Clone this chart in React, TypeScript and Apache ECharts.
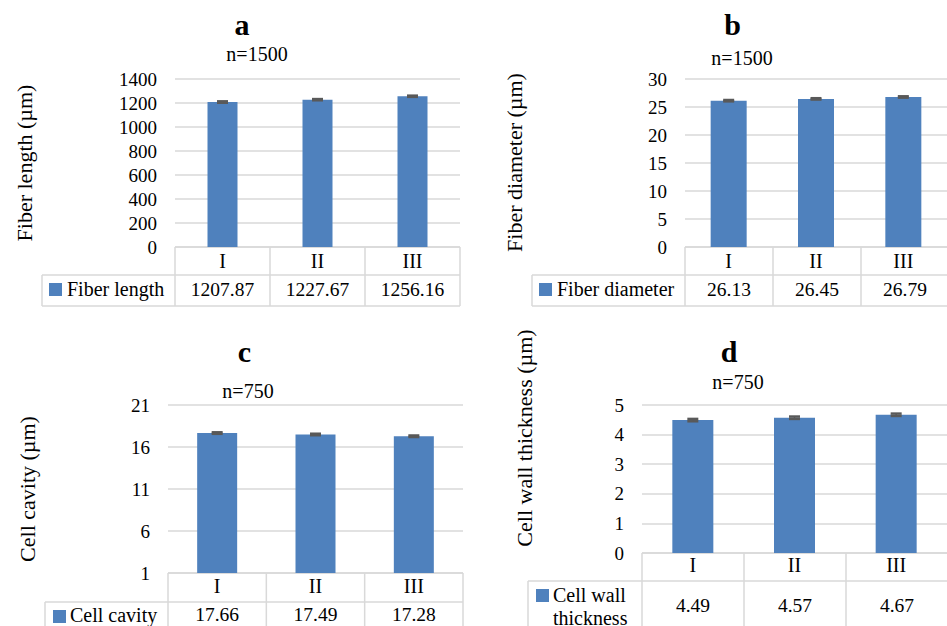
import React, { useEffect, useRef } from "react";
import * as echarts from "echarts";

// Sample groups shown on every panel
const categories = ["I", "II", "III"];

// Mean values per group
const fiberLength = [1207.87, 1227.67, 1256.16];
const fiberDiameter = [26.13, 26.45, 26.79];
const cellCavity = [17.66, 17.49, 17.28];
const wallThickness = [4.49, 4.57, 4.67];

// Standard errors per group
const fiberLengthErr = [6, 5, 5];
const fiberDiameterErr = [0.12, 0.12, 0.12];
const cellCavityErr = [0.09, 0.09, 0.09];
const wallThicknessErr = [0.04, 0.04, 0.04];

// Panel labels, sample sizes and axis titles
const panelLetters = ["a", "b", "c", "d"];
const sampleSizes = ["n=1500", "n=1500", "n=750", "n=750"];
const axisTitles = [
  "Fiber length (µm)",
  "Fiber diameter (µm)",
  "Cell cavity (µm)",
  "Cell wall thickness (µm)",
];
const seriesNames = ["Fiber length", "Fiber diameter", "Cell cavity", "Cell wall\nthickness"];

// Value axis ranges: [min, max, interval]
const axisRanges = [
  [0, 1400, 200],
  [0, 30, 5],
  [1, 21, 5],
  [0, 5, 1],
];

const values = [fiberLength, fiberDiameter, cellCavity, wallThickness];
const errors = [fiberLengthErr, fiberDiameterErr, cellCavityErr, wallThicknessErr];

const FONT = "'Liberation Serif', 'Times New Roman', serif";
const BAR = "#4f81bd";
const GRID = "#d9d9d9";
const ERR = "#595959";

// Pixel layout of each panel
const layouts = [
  { left: 175, top: 79, width: 285, height: 168, barWidth: 30, margin: 14, rowMid: 275, rowBot: 306, legendLeft: 42, squareX: 49, squareY: 283, textX: 67, valueY: 289, legendY: [289], titleX: 242, titleY: 24, nX: 257, nY: 53.5, yTitleX: 24, yTitleY: 163 },
  { left: 685, top: 79, width: 264, height: 168, barWidth: 36, margin: 14, rowMid: 275, rowBot: 306, legendLeft: 532, squareX: 539, squareY: 283, textX: 557, valueY: 289, legendY: [289], titleX: 732.5, titleY: 24, nX: 742, nY: 57.5, yTitleX: 514, yTitleY: 162.5 },
  { left: 168, top: 405, width: 295, height: 168, barWidth: 40, margin: 13, rowMid: 602, rowBot: 634, legendLeft: 45, squareX: 53, squareY: 610, textX: 70, valueY: 614, legendY: [615], titleX: 244.5, titleY: 351, nX: 248, nY: 390.5, yTitleX: 27.5, yTitleY: 489 },
  { left: 642, top: 405, width: 306, height: 148, barWidth: 41, margin: 12, rowMid: 581, rowBot: 634, legendLeft: 528, squareX: 536, squareY: 589, textX: 553, valueY: 605, legendY: [595, 618], titleX: 729, titleY: 351, nX: 738, nY: 381.5, yTitleX: 524, yTitleY: 438 },
];

function line(x1: number, y1: number, x2: number, y2: number) {
  return {
    type: "line",
    silent: true,
    shape: { x1, y1, x2, y2 },
    style: { stroke: GRID, lineWidth: 1.5 },
  };
}

function text(t: string, x: number, y: number, size: number, extra: any = {}) {
  return {
    type: "text",
    silent: true,
    x,
    y,
    style: {
      text: t,
      fontFamily: FONT,
      fontSize: size,
      fill: "#000",
      align: "center",
      verticalAlign: "middle",
      ...extra,
    },
  };
}

// Data table, titles and legend key beneath/around one panel
function panelGraphics(i: number) {
  const L = layouts[i];
  const rowTop = L.top + L.height;
  const colW = L.width / categories.length;
  const right = L.left + L.width;
  const els: any[] = [];
  els.push(line(L.left, rowTop, right, rowTop));
  els.push(line(L.legendLeft, L.rowMid, right, L.rowMid));
  els.push(line(L.legendLeft, L.rowBot, right, L.rowBot));
  els.push(line(L.legendLeft, L.rowMid, L.legendLeft, L.rowBot));
  for (let k = 0; k <= categories.length; k++) {
    const x = L.left + k * colW;
    els.push(line(x, rowTop, x, L.rowBot));
  }
  values[i].forEach((v, k) => {
    els.push(text(v.toFixed(2), L.left + (k + 0.5) * colW, L.valueY, 19.5));
  });
  els.push({
    type: "rect",
    silent: true,
    shape: { x: L.squareX, y: L.squareY, width: 13, height: 13 },
    style: { fill: BAR },
  });
  seriesNames[i].split("\n").forEach((s, k) => {
    els.push(text(s, L.textX, L.legendY[k], 20, { align: "left" }));
  });
  els.push(text(panelLetters[i], L.titleX, L.titleY, 30, { fontWeight: "bold" }));
  els.push(text(sampleSizes[i], L.nX, L.nY, 20));
  const yt: any = text(axisTitles[i], L.yTitleX, L.yTitleY, 22);
  yt.rotation = Math.PI / 2;
  els.push(yt);
  return els;
}

function errorRender(params: any, api: any) {
  const x = api.value(0);
  const v = api.value(1);
  const e = api.value(2);
  const hi = api.coord([x, v + e]);
  const lo = api.coord([x, v - e]);
  const hw = 5.5;
  const style = { stroke: ERR, lineWidth: 2.5 };
  return {
    type: "group",
    children: [
      { type: "line", shape: { x1: hi[0], y1: hi[1], x2: lo[0], y2: lo[1] }, style: { stroke: ERR, lineWidth: 1.5 } },
      { type: "line", shape: { x1: hi[0] - hw, y1: hi[1], x2: hi[0] + hw, y2: hi[1] }, style },
      { type: "line", shape: { x1: lo[0] - hw, y1: lo[1], x2: lo[0] + hw, y2: lo[1] }, style },
    ],
  };
}

export default function App() {
  const ref = useRef<HTMLDivElement>(null);

  useEffect(() => {
    if (!ref.current) return;
    const chart = echarts.init(ref.current, null, { renderer: "svg" });

    const grid = layouts.map((L) => ({
      left: L.left,
      top: L.top,
      width: L.width,
      height: L.height,
      containLabel: false,
    }));

    const xAxis = layouts.map((L, i) => ({
      type: "category",
      gridIndex: i,
      data: categories,
      axisLine: { show: false },
      axisTick: { show: false },
      axisLabel: {
        margin: L.margin,
        verticalAlign: "middle",
        fontFamily: FONT,
        fontSize: 20,
        color: "#000",
      },
    }));

    const yAxis = axisRanges.map(([min, max, interval], i) => ({
      type: "value",
      gridIndex: i,
      min,
      max,
      interval,
      axisLine: { show: false },
      axisTick: { show: false },
      axisLabel: {
        margin: 18,
        fontFamily: FONT,
        fontSize: 19,
        color: "#000",
        formatter: (v: number) => String(v),
      },
      splitLine: { lineStyle: { color: GRID, width: 1.5 } },
    }));

    const series: any[] = [];
    values.forEach((vals, i) => {
      series.push({
        type: "bar",
        name: seriesNames[i],
        xAxisIndex: i,
        yAxisIndex: i,
        data: vals,
        barWidth: layouts[i].barWidth,
        itemStyle: { color: BAR },
      });
      series.push({
        type: "custom",
        xAxisIndex: i,
        yAxisIndex: i,
        data: vals.map((v, k) => [k, v, errors[i][k]]),
        renderItem: errorRender,
        z: 5,
      });
    });

    const graphic: any[] = [];
    layouts.forEach((_, i) => graphic.push(...panelGraphics(i)));

    chart.setOption({
      animation: false,
      backgroundColor: "#fff",
      textStyle: { fontFamily: FONT },
      grid,
      xAxis,
      yAxis,
      series,
      graphic,
    });

    return () => chart.dispose();
  }, []);

  return (
    <div
      ref={ref}
      style={{ position: "fixed", left: 0, top: 0, width: 947, height: 626 }}
    />
  );
}
